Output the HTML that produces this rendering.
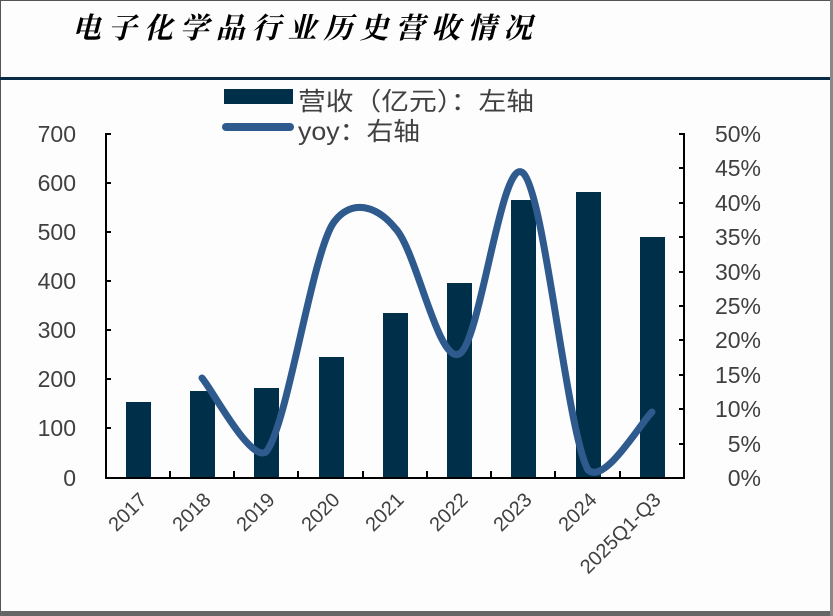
<!DOCTYPE html>
<html><head><meta charset="utf-8"><style>
body{margin:0;background:#fff}
svg{display:block}
text{font-family:"Liberation Sans","Noto Sans CJK SC",sans-serif;fill:#404040}
</style></head><body>
<svg width="833" height="616" viewBox="0 0 833 616" xmlns="http://www.w3.org/2000/svg">
<rect x="0" y="0" width="833" height="616" fill="#fdfdfd"/>
<rect x="0.5" y="0.5" width="830" height="611" fill="none" stroke="#555" stroke-width="1"/>
<rect x="0" y="611" width="833" height="5" fill="#666"/>
<rect x="830" y="0" width="3" height="616" fill="#888"/>
<text x="72" y="38" font-size="29" font-style="italic" font-weight="bold" textLength="460" lengthAdjust="spacing" style="font-family:'Noto Serif CJK SC','Noto Sans CJK SC',serif;fill:#000">电子化学品行业历史营收情况</text>
<rect x="0" y="77" width="830" height="3" fill="#0a2a45"/>
<!-- legend -->
<rect x="224" y="89" width="69" height="15" fill="#003049"/>
<text x="298" y="110" font-size="25" textLength="236" lengthAdjust="spacingAndGlyphs">营收（亿元）：左轴</text>
<line x1="226" y1="127" x2="290" y2="127" stroke="#2e5a8e" stroke-width="8" stroke-linecap="round"/>
<text x="298" y="140" font-size="25" textLength="122" lengthAdjust="spacingAndGlyphs">yoy：右轴</text>
<!-- bars -->
<g fill="#003049">
<rect x="126" y="402" width="25" height="76"/>
<rect x="190" y="391" width="25" height="87"/>
<rect x="254" y="388" width="25" height="90"/>
<rect x="319" y="357" width="25" height="121"/>
<rect x="383" y="313" width="25" height="165"/>
<rect x="447" y="283" width="25" height="195"/>
<rect x="511" y="200" width="25" height="278"/>
<rect x="576" y="192" width="25" height="286"/>
<rect x="640" y="237" width="25" height="241"/>
</g>
<!-- axes -->
<g stroke="#000" stroke-width="2" fill="none">
<line x1="106" y1="133" x2="106" y2="479"/>
<line x1="684" y1="133" x2="684" y2="479"/>
<line x1="105" y1="478" x2="685" y2="478"/>
<path d="M106 134h5M106 183h5M106 232h5M106 281h5M106 330h5M106 379h5M106 428h5"/>
<path d="M684 134h-5M684 168h-5M684 203h-5M684 237h-5M684 272h-5M684 306h-5M684 340h-5M684 375h-5M684 409h-5M684 444h-5"/>
<path d="M170 478v-7M234 478v-7M298 478v-7M363 478v-7M427 478v-7M491 478v-7M555 478v-7M620 478v-7"/>
</g>
<!-- line -->
<path d="M202 378 C212.7 390.3 250 462 266 452 C287.5 426.5 312 252 334 222 C352 198 377 206 395 228 C416.3 249.5 437.7 363.2 459 354 C480.3 344.8 501.5 153.7 523 173 C544.5 192.3 566.5 430.2 588 470 C605 485 641.3 421.7 652 412" fill="none" stroke="#2e5a8e" stroke-width="7" stroke-linecap="round"/>
<!-- left labels -->
<g font-size="23" text-anchor="end">
<text x="76" y="142">700</text><text x="76" y="191">600</text><text x="76" y="240">500</text>
<text x="76" y="289">400</text><text x="76" y="338">300</text><text x="76" y="387">200</text>
<text x="76" y="436">100</text><text x="76" y="486">0</text>
</g>
<g font-size="23" text-anchor="end">
<text x="761" y="142">50%</text><text x="761" y="176">45%</text><text x="761" y="211">40%</text>
<text x="761" y="245">35%</text><text x="761" y="280">30%</text><text x="761" y="314">25%</text>
<text x="761" y="348">20%</text><text x="761" y="383">15%</text><text x="761" y="417">10%</text>
<text x="761" y="452">5%</text><text x="761" y="486">0%</text>
</g>
<g font-size="20" text-anchor="end">
<text transform="translate(148,501) rotate(-45)">2017</text>
<text transform="translate(212,501) rotate(-45)">2018</text>
<text transform="translate(276,501) rotate(-45)">2019</text>
<text transform="translate(341,501) rotate(-45)">2020</text>
<text transform="translate(405,501) rotate(-45)">2021</text>
<text transform="translate(469,501) rotate(-45)">2022</text>
<text transform="translate(533,501) rotate(-45)">2023</text>
<text transform="translate(598,501) rotate(-45)">2024</text>
<text transform="translate(662,501) rotate(-45)">2025Q1-Q3</text>
</g>
</svg>
</body></html>
